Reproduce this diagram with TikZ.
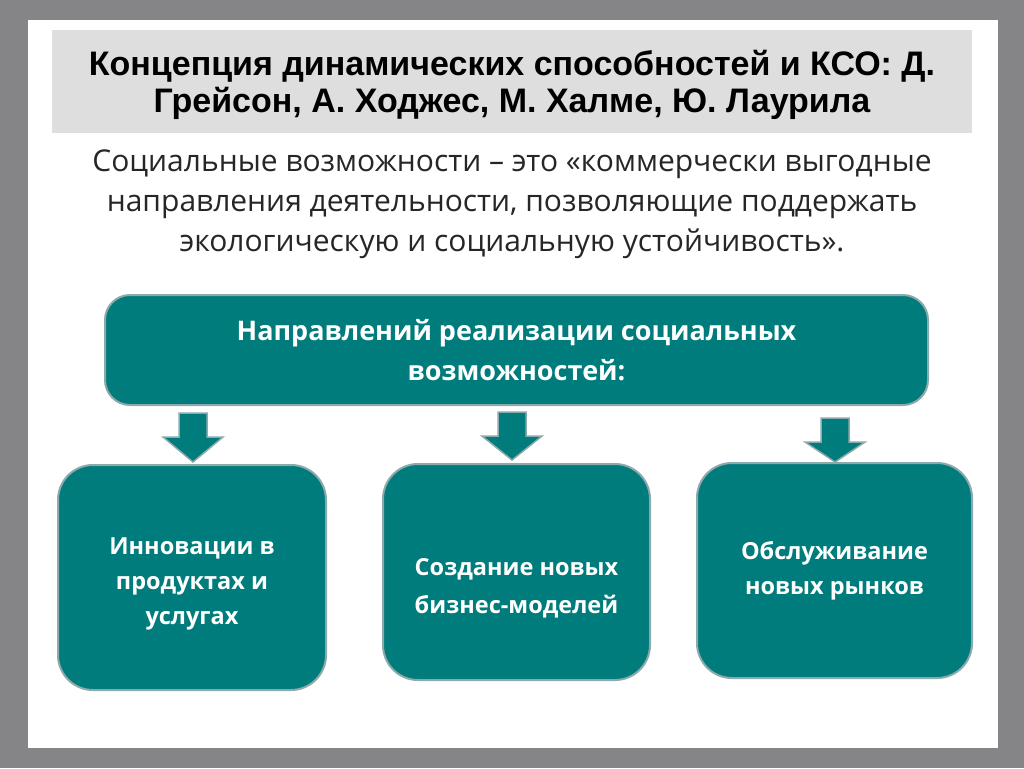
\documentclass[tikz,border=0pt]{standalone}
\usepackage{fontspec}
\setmainfont{Open Sans}
\newfontfamily\titlefont{Liberation Sans}
\begin{document}
\begin{tikzpicture}[x=1pt,y=-1pt,
  teal box/.style={draw=tealedge,line width=2pt,fill=tealfill,rounded corners=#1,text=white,font=\bfseries\fontsize{23.5}{35}\selectfont,align=center,inner sep=0pt},
  downarrow/.style={fill=tealfill,draw=tealedge,line width=1.5pt,line join=miter}]
\definecolor{tealfill}{HTML}{007C7C}
\definecolor{tealedge}{HTML}{8CA9AB}
\definecolor{framegray}{HTML}{858587}
\definecolor{titlegray}{HTML}{DEDEDE}
\useasboundingbox (0,0) rectangle (1024,768);
\fill[framegray] (0,0) rectangle (1024,768);
\fill[white] (28,20) rectangle (998,748);
\fill[titlegray] (52,30) rectangle (972,133);
\node[font=\titlefont\bfseries\fontsize{34}{37}\selectfont,align=center] (title) at (512,85) {Концепция динамических способностей и КСО: Д.\\Грейсон, А. Ходжес, М. Халме, Ю. Лаурила};
\node[font=\fontsize{30}{40}\selectfont,align=center,text=black!85] (sub) at (512,204) {Социальные возможности – это «коммерчески выгодные\\направления деятельности, позволяющие поддержать\\экологическую и социальную устойчивость».};
\node[teal box=25pt,minimum width=823pt,minimum height=110pt,font=\bfseries\fontsize{27}{40}\selectfont] (top) at (516.5,350) {Направлений реализации социальных\\возможностей:};
\node[teal box=35pt,minimum width=268pt,minimum height=225pt] (b1) at (192,577.5) {};
\node[text=white,font=\bfseries\fontsize{23.5}{35}\selectfont,align=center] (t1) at (192,584) {Инновации в\\продуктах и\\услугах};
\node[teal box=35pt,minimum width=267pt,minimum height=216pt] (b2) at (516.5,572) {};
\node[text=white,font=\bfseries\fontsize{23.5}{38}\selectfont,align=center] (t2) at (516.5,588) {Создание новых\\бизнес-моделей};
\node[teal box=35pt,minimum width=275pt,minimum height=215pt] (b3) at (834.5,570.5) {Обслуживание\\новых рынков};
\foreach \x/\ya/\yb in {193/413/462, 512/412/460, 835/418/462}{
  \draw[downarrow] (\x-14,\ya) -- (\x+14,\ya) -- (\x+14,\ya+24) -- (\x+30,\ya+24) -- (\x,\yb) -- (\x-30,\ya+24) -- (\x-14,\ya+24) -- cycle;
}
\end{tikzpicture}
\end{document}
